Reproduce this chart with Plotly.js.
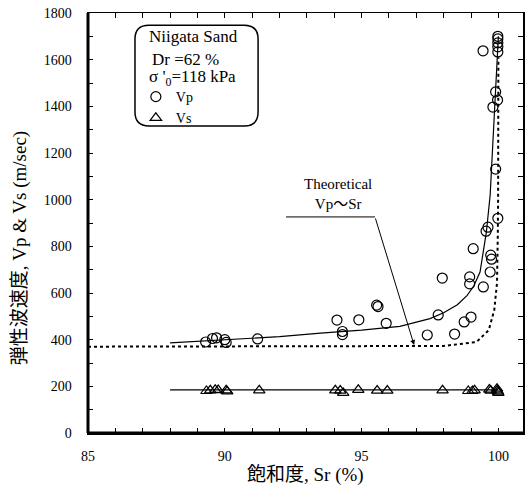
<!DOCTYPE html>
<html>
<head>
<meta charset="utf-8">
<script src="https://cdn.plot.ly/plotly-3.0.1.min.js"></script>
<style>html,body{margin:0;padding:0;background:#fff;}#chart{width:528px;height:488px;}</style>
</head>
<body>
<div id="chart"></div>
<script>
// Measured Vp (circles)
const srVp = [89.3, 89.55, 89.7, 90.0, 90.05, 91.2, 94.1, 94.3, 94.3, 94.9, 95.55, 95.6, 95.9,
  97.4, 97.8, 97.95, 98.4, 98.75, 98.95, 98.95, 99.0, 99.08, 99.45, 99.55, 99.62, 99.7, 99.72, 99.75,
  99.8, 99.9, 99.9, 99.97, 99.98, 99.44, 99.98, 99.98, 99.98, 99.98, 99.98];
const vp = [390, 405, 408, 400, 388, 403, 484, 435, 422, 485, 548, 542, 470,
  420, 506, 664, 424, 476, 669, 639, 497, 790, 626, 865, 882, 690, 762, 745,
  1397, 1131, 1462, 1427, 920, 1638, 1633, 1655, 1672, 1689, 1700];
// Measured Vs (triangles)
const srVs = [89.33, 89.47, 89.65, 89.76, 90.05, 90.09, 91.26, 94.04, 94.22, 94.33, 94.88, 95.57, 95.94,
  97.96, 98.9, 99.05, 99.13, 99.67, 99.72, 99.96, 99.98, 100.0, 99.95];
const vs = [180, 183, 185, 184, 183, 178, 183, 183, 182, 172, 185, 182, 182,
  183, 180, 180, 183, 186, 182, 183, 177, 172, 190];
// Fitted Vp curve (solid)
const fitSr = [88, 90, 92, 93.5, 95, 96.4, 97.5, 98, 98.5, 98.86, 99.1, 99.33, 99.56, 99.7, 99.82, 99.92, 99.98, 100];
const fitVp = [386, 398, 413, 428, 441, 457, 490, 515, 550, 590, 630, 690, 860, 1020, 1286, 1500, 1630, 1700];
// Theoretical Vp~Sr (dotted)
const theoSr = [85, 96.4, 98, 99.2, 99.65, 99.85, 99.95, 99.98, 99.99, 100];
const theoVp = [370, 370, 373, 390, 441, 527, 643, 857, 1000, 1610];
// Vs line
const vsLineSr = [88, 100];
const vsLineV = [185, 185];

const serif = "'Liberation Serif', 'Times New Roman', serif";
const mixed = "'Liberation Serif', 'Noto Sans CJK JP', serif";

const traces = [
  {x: fitSr, y: fitVp, mode: 'lines', line: {color: '#000', width: 1.2}, showlegend: false, hoverinfo: 'skip'},
  {x: theoSr, y: theoVp, mode: 'lines', line: {color: '#000', width: 2, dash: 'dot'}, showlegend: false, hoverinfo: 'skip'},
  {x: vsLineSr, y: vsLineV, mode: 'lines', line: {color: '#000', width: 1.2}, showlegend: false, hoverinfo: 'skip'},
  {x: srVp, y: vp, mode: 'markers', name: 'Vp',
   marker: {symbol: 'circle-open', size: 10, color: '#000', line: {color: '#000', width: 1.2}}},
  {x: srVs, y: vs, mode: 'markers', name: 'Vs',
   marker: {symbol: 'triangle-up-open', size: 10, color: '#000', line: {color: '#000', width: 1.2}}}
];

// rounded legend box in paper coords
const bx0 = 0.108, bx1 = 0.391, by0 = 0.731, by1 = 0.971, rx = 0.032, ry = 0.033;
const boxPath = `M ${bx0+rx},${by0} L ${bx1-rx},${by0} Q ${bx1},${by0} ${bx1},${by0+ry} L ${bx1},${by1-ry} Q ${bx1},${by1} ${bx1-rx},${by1} L ${bx0+rx},${by1} Q ${bx0},${by1} ${bx0},${by1-ry} L ${bx0},${by0+ry} Q ${bx0},${by0} ${bx0+rx},${by0} Z`;

const layout = {
  width: 528, height: 488,
  margin: {l: 88, r: 5, t: 13, b: 55},
  paper_bgcolor: '#fff', plot_bgcolor: '#fff',
  showlegend: true,
  legend: {x: 0.11, y: 0.838, xanchor: 'left', yanchor: 'top', bgcolor: 'rgba(0,0,0,0)',
    font: {family: serif, size: 14, color: '#000'}, itemwidth: 30, tracegroupgap: 0},
  xaxis: {range: [85, 100.9], tickvals: [85, 90, 95, 100], ticks: 'inside', ticklen: 5, tickwidth: 1,
    tickcolor: '#000', showgrid: false, zeroline: false, showline: true, linecolor: '#000', linewidth: 1.5,
    mirror: 'allticks', ticklabelstandoff: 10,
    tickfont: {family: serif, size: 14, color: '#000'},
    minor: {dtick: 1, tick0: 85, ticks: 'inside', ticklen: 5, tickcolor: '#000', tickwidth: 1, showgrid: false}},
  yaxis: {range: [0, 1800], dtick: 200, ticks: 'inside', ticklen: 5, tickwidth: 1,
    tickcolor: '#000', showgrid: false, zeroline: false, showline: true, linecolor: '#000', linewidth: 1.5,
    mirror: 'allticks', ticklabelstandoff: 12,
    tickfont: {family: serif, size: 14, color: '#000'},
    minor: {dtick: 100, ticks: 'inside', ticklen: 5, tickcolor: '#000', tickwidth: 1, showgrid: false}},
  shapes: [
    {type: 'line', xref: 'paper', yref: 'paper', x0: 0, x1: 1, y0: 0, y1: 0, line: {color: '#000', width: 3}},
    {type: 'line', xref: 'paper', yref: 'paper', x0: 0, x1: 0, y0: 0, y1: 1, line: {color: '#000', width: 3}},
    {type: 'path', xref: 'paper', yref: 'paper', path: boxPath, line: {color: '#000', width: 1.5}},
    {type: 'line', xref: 'x', yref: 'y', x0: 92.24, x1: 95.49, y0: 926, y1: 926, line: {color: '#000', width: 1}}
  ],
  annotations: [
    {xref: 'paper', yref: 'paper', x: 0.1356, y: 0.943, xanchor: 'left', yanchor: 'middle', showarrow: false,
     text: 'Niigata Sand', font: {family: serif, size: 17, color: '#000'}},
    {xref: 'paper', yref: 'paper', x: 0.1425, y: 0.890, xanchor: 'left', yanchor: 'middle', showarrow: false,
     text: 'Dr =62 %', font: {family: serif, size: 17, color: '#000'}},
    {xref: 'paper', yref: 'paper', x: 0.1356, y: 0.845, xanchor: 'left', yanchor: 'middle', showarrow: false,
     text: "σ '<sub>0</sub>=118 kPa", font: {family: serif, size: 17, color: '#000'}},
    {xref: 'x', yref: 'y', x: 94.14, y: 1024, xanchor: 'center', yanchor: 'middle', showarrow: false,
     text: 'Theoretical<br>Vp～Sr', font: {family: mixed, size: 15, color: '#000'}},
    {xref: 'x', yref: 'y', x: 96.92, y: 377, axref: 'x', ayref: 'y', ax: 95.49, ay: 926, text: '',
     showarrow: true, arrowhead: 2, arrowsize: 1, arrowwidth: 1, arrowcolor: '#000'},
    {xref: 'paper', yref: 'paper', x: -0.156, y: 0.44, xanchor: 'center', yanchor: 'middle', showarrow: false,
     textangle: -90, text: '弾性波速度, Vp &amp; Vs (m/sec)', font: {family: mixed, size: 19, color: '#000'}},
    {xref: 'paper', yref: 'paper', x: 0.5, y: -0.098, xanchor: 'center', yanchor: 'middle', showarrow: false,
     text: '飽和度, Sr (%)', font: {family: mixed, size: 19, color: '#000'}}
  ]
};

Plotly.newPlot('chart', traces, layout, {displayModeBar: false, staticPlot: true});
</script>
</body>
</html>
